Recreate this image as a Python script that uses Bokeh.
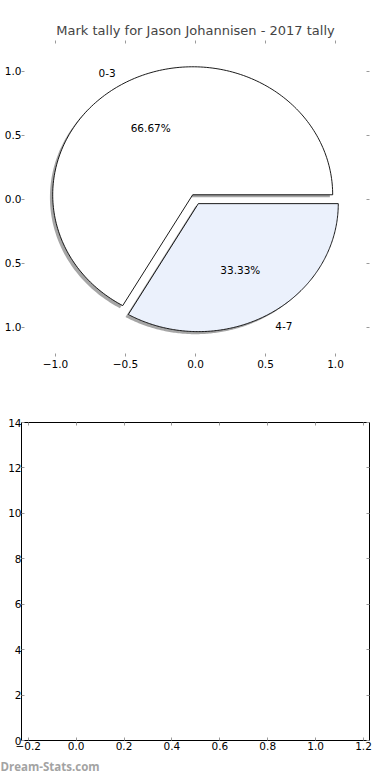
import numpy as np
from bokeh.plotting import figure
from bokeh.models import Range1d, LinearAxis, FixedTicker, CustomJSTickFormatter, Title, ColumnDataSource
from bokeh.layouts import column
from bokeh.embed import file_html
from bokeh.resources import INLINE
from bokeh.core.properties import value

# ---- data ----
categories = ["0-3", "4-7"]
tally = [2, 1]
pie_ticks = [-1.0, -0.5, 0.0, 0.5, 1.0]
bar_x_ticks = [-0.2, 0.0, 0.2, 0.4, 0.6, 0.8, 1.0, 1.2]
bar_y_ticks = [0, 2, 4, 6, 8, 10, 12, 14]
title_text = "Mark tally for Jason Johannisen - 2017 tally"
watermark = "Dream-Stats.com"

# ---- style ----
FONT = "DejaVu Sans"
TICK_SIZE = "10.5px"
TICK_COLOR = "#9a9a9a"
slice_colors = ["#ffffff", "#ebf1fc"]
explode = 0.04
shadow_off = -0.02

signed_fmt = CustomJSTickFormatter(code="return (tick < 0 ? '\u2212' : '') + Math.abs(tick).toFixed(1);")
abs_fmt = CustomJSTickFormatter(code="return Math.abs(tick).toFixed(1);")
int_fmt = CustomJSTickFormatter(code="return tick.toFixed(0);")
blank_fmt = CustomJSTickFormatter(code="return '';")


def make_axis(ticks, fmt, show, standoff=3, line=None):
    ax = LinearAxis(ticker=FixedTicker(ticks=ticks), formatter=fmt if show else blank_fmt)
    ax.major_tick_in = 3
    ax.major_tick_out = 0
    ax.minor_tick_in = 0
    ax.minor_tick_out = 0
    ax.major_tick_line_color = TICK_COLOR
    ax.major_tick_line_width = 1
    ax.axis_line_color = line
    ax.axis_label_standoff = 0
    ax.major_label_text_font = FONT
    ax.major_label_text_font_size = TICK_SIZE if show else "0px"
    ax.major_label_text_color = "black"
    ax.major_label_standoff = standoff if show else 0
    return ax


# ---- top: pie ----
top = figure(width=390, height=390, output_backend="svg", toolbar_location=None,
             x_range=Range1d(-1.243, 1.243), y_range=Range1d(-1.229, 1.240),
             x_axis_type=None, y_axis_type=None,
             min_border_left=21, min_border_right=21, min_border_top=40, min_border_bottom=34,
             outline_line_color=None, background_fill_color="white", border_fill_color="white")
top.title.text = title_text
top.title.text_font = FONT
top.title.text_font_size = "13px"
top.title.text_font_style = "normal"
top.title.align = "center"
top.title.standoff = 5

top.add_layout(make_axis(pie_ticks, signed_fmt, True, 3), "below")
top.add_layout(make_axis(pie_ticks, abs_fmt, True, 0), "left")
top.add_layout(make_axis(pie_ticks, blank_fmt, False), "above")
top.add_layout(make_axis(pie_ticks, blank_fmt, False), "right")

total = float(sum(tally))
xs, ys, sxs, sys_ = [], [], [], []
lab_x, lab_y, lab_align, pct_x, pct_y, pct_txt = [], [], [], [], [], []
start = 0.0
for cat, t in zip(categories, tally):
    frac = t / total
    t1, t2 = 2 * np.pi * start, 2 * np.pi * (start + frac)
    mid = 0.5 * (t1 + t2)
    cx, cy = explode * np.cos(mid), explode * np.sin(mid)
    th = np.linspace(t1, t2, 200)
    px = [cx] + list(cx + np.cos(th)) + [cx]
    py = [cy] + list(cy + np.sin(th)) + [cy]
    xs.append(px)
    ys.append(py)
    sxs.append([v + shadow_off for v in px])
    sys_.append([v + shadow_off for v in py])
    lx = cx + 1.1 * np.cos(mid)
    lab_x.append(lx)
    lab_y.append(cy + 1.1 * np.sin(mid))
    lab_align.append("right" if lx < 0 else "left")
    pct_x.append(cx + 0.6 * np.cos(mid))
    pct_y.append(cy + 0.6 * np.sin(mid))
    pct_txt.append("%.2f%%" % (100 * frac))
    start += frac

top.patches(xs=sxs, ys=sys_, fill_color="#4d4d4d", fill_alpha=0.5, line_color=None)
top.patches(xs=xs, ys=ys, fill_color=slice_colors, line_color="black", line_width=0.9)

lab_src = ColumnDataSource(dict(x=lab_x, y=lab_y, t=categories, a=lab_align))
top.text(x="x", y="y", text="t", text_align="a", source=lab_src, text_baseline="middle",
         text_font=value(FONT), text_font_size=TICK_SIZE, text_color="black")
pct_src = ColumnDataSource(dict(x=pct_x, y=pct_y, t=pct_txt))
top.text(x="x", y="y", text="t", source=pct_src, text_align="center", text_baseline="middle",
         text_font=value(FONT), text_font_size=TICK_SIZE, text_color="black")

# ---- bottom: empty axes ----
bot = figure(width=390, height=390, output_backend="svg", toolbar_location=None,
             x_range=Range1d(-0.228, 1.225), y_range=Range1d(0, 14),
             x_axis_type=None, y_axis_type=None,
             min_border_left=19, min_border_right=20, min_border_top=32, min_border_bottom=40,
             outline_line_color="black", outline_line_width=1,
             background_fill_color="white", border_fill_color="white")
bot.add_layout(make_axis(bar_x_ticks, signed_fmt, True, 1), "below")
bot.add_layout(make_axis(bar_y_ticks, int_fmt, True, 0), "left")
bot.add_layout(make_axis(bar_x_ticks, blank_fmt, False), "above")
bot.add_layout(make_axis(bar_y_ticks, blank_fmt, False), "right")
bot.xgrid.grid_line_color = None
bot.ygrid.grid_line_color = None
bot.vbar(x=[], top=[], width=0.8)

wm = Title(text=watermark, align="left", offset=-21, text_font="Open Sans",
           text_font_size="11.5px", text_font_style="bold", text_color="#a3a3a3", standoff=9)
bot.add_layout(wm, "below")

layout = column(top, bot, spacing=0)
open("out.html", "w").write(file_html(layout, INLINE))
